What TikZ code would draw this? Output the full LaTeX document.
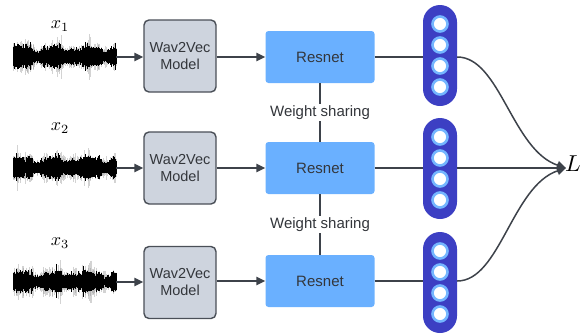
\documentclass[tikz,border=0pt]{standalone}
\usepackage{fontspec}
\setmainfont{Liberation Sans}
\usetikzlibrary{arrows.meta}
\definecolor{lineC}{HTML}{3D424A}
\definecolor{wfill}{HTML}{CED4DE}
\definecolor{wdraw}{HTML}{4A4F57}
\definecolor{rfill}{HTML}{6AB0FF}
\definecolor{cfill}{HTML}{3C3FC3}
\definecolor{ring}{HTML}{74B6FF}
\definecolor{txt}{HTML}{33363B}
\newcommand\mywave[1]{%
  \begin{scope}[shift={(13,#1)}]
    \pgfmathsetseed{#1}
    \foreach \i in {0,...,200} {
      \pgfmathsetmacro\env{1+0.25*sin(\i*5.5)+0.15*sin(\i*13)}
      \pgfmathsetmacro\h{\env*(7+11*rnd*rnd)}
      \draw[black!50,opacity=.35,line width=.35pt] ({\i*0.515},{-\h}) -- ({\i*0.515},{\h});
    }
    \foreach \i in {0,...,300} {
      \pgfmathsetmacro\env{1+0.25*sin(\i*3.7)+0.15*sin(\i*9)}
      \pgfmathsetmacro\h{\env*(4+5*rnd+8*rnd*rnd*rnd)}
      \draw[black,line width=.45pt] ({\i*0.343},{-\h}) -- ({\i*0.343},{\h*0.9});
    }
  \end{scope}}
\begin{document}
\begin{tikzpicture}[x=1pt,y=-1pt,
  conn/.style={draw=lineC,line width=1.5pt},
  arr/.style={conn,-{Triangle[length=9pt,width=8.5pt]}},
  w2v/.style={draw=wdraw,line width=1.4pt,fill=wfill,rounded corners=5pt,minimum width=72pt,minimum height=72pt,align=center,font=\fontsize{14.5}{17}\selectfont,text=txt,inner sep=0pt},
  res/.style={fill=rfill,rounded corners=3pt,minimum width=109pt,minimum height=52pt,font=\fontsize{15}{18}\selectfont,text=txt,inner sep=0pt},
  caps/.style={fill=cfill,rounded corners=17pt,minimum width=34pt,minimum height=101pt,inner sep=0pt},
  neuron/.style={circle,draw=ring,line width=2.6pt,fill=white,minimum size=15pt,inner sep=0pt},
  wavebox/.style={minimum width=103pt,minimum height=46pt,inner sep=0pt},
  wslabel/.style={fill=white,font=\fontsize{15}{18}\selectfont,text=txt,inner sep=2pt},
  xlab/.style={inner sep=0pt}]
\useasboundingbox (0,0) rectangle (581,333);

% waveforms
\mywave{57}
\mywave{168}
\mywave{282}
\node[wavebox] (wav1) at (64.5,57) {};
\node[wavebox] (wav2) at (64.5,168) {};
\node[wavebox] (wav3) at (64.5,282) {};
\node[xlab] (x1) at (60,26) {\scalebox{1.8}{$x_1$}};
\node[xlab] (x2) at (60,128) {\scalebox{1.8}{$x_2$}};
\node[xlab] (x3) at (60,243) {\scalebox{1.8}{$x_3$}};

% wav2vec
\node[w2v] (w1) at (180,56) {Wav2Vec\\Model};
\node[w2v] (w2) at (180,168) {Wav2Vec\\Model};
\node[w2v] (w3) at (180,282.5) {Wav2Vec\\Model};

% resnet
\node[res] (r1) at (320,57) {Resnet};
\node[res] (r2) at (320,168) {Resnet};
\node[res] (r3) at (320,281) {Resnet};

% capsules
\node[caps] (c1) at (440,55.5) {};
\node[caps] (c2) at (440,168.5) {};
\node[caps] (c3) at (440,282.5) {};
\foreach \c/\y in {1/55.5,2/168.5,3/282.5}{
  \foreach \k/\d in {1/-31.5,2/-10.5,3/10.5,4/31.5}{
    \node[neuron] (n\c\k) at (440,{\y+\d}) {};
  }
}

\node[inner sep=0pt,anchor=west] (L) at (565,164) {\scalebox{2.3}{$L$}};

% connectors
\draw[arr] (wav1.east) -- (w1.west |- wav1.east);
\draw[arr] (wav2.east) -- (w2.west |- wav2.east);
\draw[arr] (wav3.east) -- (w3.west |- wav3.east);
\draw[arr] (w1.east |- r1.west) -- (r1.west);
\draw[arr] (w2.east |- r2.west) -- (r2.west);
\draw[arr] (w3.east |- r3.west) -- (r3.west);
\draw[conn] (r1.east) -- (c1.west |- r1.east);
\draw[conn] (r2.east) -- (c2.west |- r2.east);
\draw[conn] (r3.east) -- (c3.west |- r3.east);

\draw[conn,line width=1.3pt] (r1.south) -- (r2.north) node[wslabel,midway] (ws1) {Weight sharing};
\draw[conn,line width=1.3pt] (r2.south) -- (r3.north) node[wslabel,midway] (ws2) {Weight sharing};

\coordinate (L0) at ([xshift=1pt]L.west |- r2.east);
\draw[arr] (c1.east |- r1.east) .. controls (500,57) and (512,150) .. (L0);
\draw[arr] (c2.east |- r2.east) -- (L0);
\draw[arr] (c3.east |- r3.east) .. controls (500,281) and (512,186) .. (L0);
\end{tikzpicture}
\end{document}
